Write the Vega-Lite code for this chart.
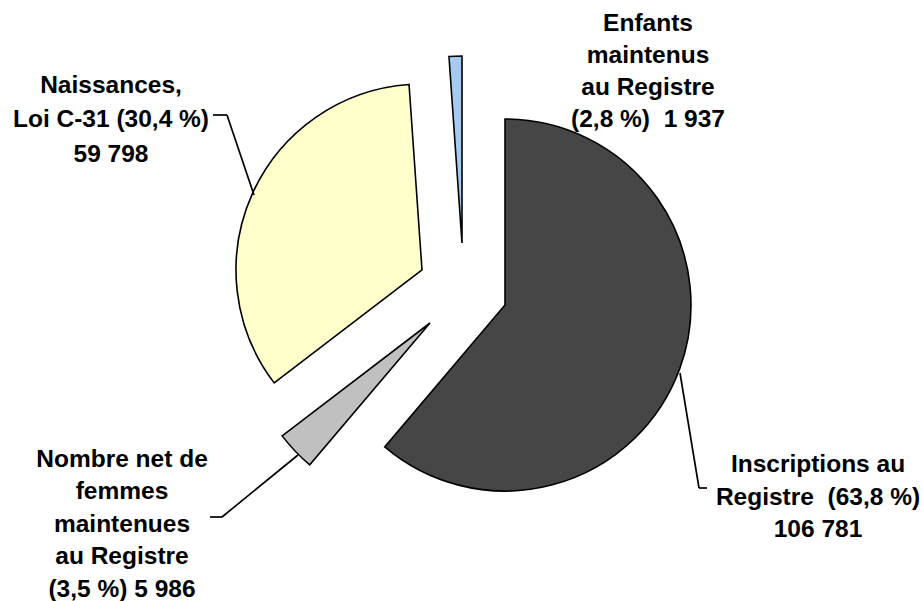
{
  "$schema": "https://vega.github.io/schema/vega-lite/v6.json",
  "width": 923,
  "height": 601,
  "autosize": {"type": "fit", "contains": "padding"},
  "padding": 0,
  "background": "white",
  "view": {"stroke": null},
  "config": {"font": "Liberation Sans"},
  "data": {
    "values": [
      {"categorie": "Inscriptions", "label": "Inscriptions au|Registre\u00a0 (63,8 %)|106 781", "valeur": 106781, "ordre": 1},
      {"categorie": "Femmes", "label": "Nombre net de|femmes|maintenues|au Registre|(3,5 %) 5 986", "valeur": 5986, "ordre": 2},
      {"categorie": "Naissances", "label": "Naissances,|Loi C-31 (30,4 %)|59 798", "valeur": 59798, "ordre": 3},
      {"categorie": "Enfants", "label": "Enfants|maintenus|au Registre|(2,8 %)\u00a0 1 937", "valeur": 1937, "ordre": 4}
    ]
  },
  "transform": [
    {"stack": "valeur", "groupby": [], "sort": [{"field": "ordre", "order": "ascending"}], "as": ["v0", "v1"]}
  ],
  "layer": [
    {
      "transform": [{"filter": "datum.categorie === 'Inscriptions'"}],
      "mark": {"type": "arc", "radius": 186, "stroke": "#000000", "strokeWidth": 1.6, "xOffset": 43.5, "yOffset": 4.5},
      "encoding": {
        "theta": {"field": "v0", "type": "quantitative", "scale": {"domain": [0, 174502]}},
        "theta2": {"field": "v1"},
        "color": {"field": "categorie", "type": "nominal", "legend": null,
          "scale": {"domain": ["Inscriptions", "Femmes", "Naissances", "Enfants"], "range": ["#464646", "#C0C0C0", "#FFFFCC", "#A6CAF0"]}}
      }
    },
    {
      "transform": [{"filter": "datum.categorie === 'Femmes'"}],
      "mark": {"type": "arc", "radius": 186, "stroke": "#000000", "strokeWidth": 1.6, "xOffset": -31.5, "yOffset": 22.5},
      "encoding": {
        "theta": {"field": "v0", "type": "quantitative", "scale": {"domain": [0, 174502]}},
        "theta2": {"field": "v1"},
        "color": {"field": "categorie", "type": "nominal", "legend": null}
      }
    },
    {
      "transform": [{"filter": "datum.categorie === 'Naissances'"}],
      "mark": {"type": "arc", "radius": 186, "stroke": "#000000", "strokeWidth": 1.6, "xOffset": -39.5, "yOffset": -30.5},
      "encoding": {
        "theta": {"field": "v0", "type": "quantitative", "scale": {"domain": [0, 174502]}},
        "theta2": {"field": "v1"},
        "color": {"field": "categorie", "type": "nominal", "legend": null}
      }
    },
    {
      "transform": [{"filter": "datum.categorie === 'Enfants'"}],
      "mark": {"type": "arc", "radius": 187, "stroke": "#000000", "strokeWidth": 1.6, "xOffset": 0.5, "yOffset": -57.5},
      "encoding": {
        "theta": {"field": "v0", "type": "quantitative", "scale": {"domain": [0, 174502]}},
        "theta2": {"field": "v1"},
        "color": {"field": "categorie", "type": "nominal", "legend": null}
      }
    },
    {
      "transform": [{"filter": "datum.categorie === 'Naissances'"}],
      "mark": {"type": "rule", "color": "#000000", "strokeWidth": 1.7},
      "encoding": {"x": {"value": 213}, "y": {"value": 115}, "x2": {"value": 227}, "y2": {"value": 115}}
    },
    {
      "transform": [{"filter": "datum.categorie === 'Naissances'"}],
      "mark": {"type": "rule", "color": "#000000", "strokeWidth": 1.7},
      "encoding": {"x": {"value": 227}, "y": {"value": 115}, "x2": {"value": 254}, "y2": {"value": 195}}
    },
    {
      "transform": [{"filter": "datum.categorie === 'Femmes'"}],
      "mark": {"type": "rule", "color": "#000000", "strokeWidth": 1.7},
      "encoding": {"x": {"value": 210}, "y": {"value": 517}, "x2": {"value": 222}, "y2": {"value": 517}}
    },
    {
      "transform": [{"filter": "datum.categorie === 'Femmes'"}],
      "mark": {"type": "rule", "color": "#000000", "strokeWidth": 1.7},
      "encoding": {"x": {"value": 222}, "y": {"value": 517}, "x2": {"value": 298}, "y2": {"value": 455}}
    },
    {
      "transform": [{"filter": "datum.categorie === 'Inscriptions'"}],
      "mark": {"type": "rule", "color": "#000000", "strokeWidth": 1.7},
      "encoding": {"x": {"value": 680}, "y": {"value": 373}, "x2": {"value": 699}, "y2": {"value": 488}}
    },
    {
      "transform": [{"filter": "datum.categorie === 'Inscriptions'"}],
      "mark": {"type": "rule", "color": "#000000", "strokeWidth": 1.7},
      "encoding": {"x": {"value": 699}, "y": {"value": 488}, "x2": {"value": 707}, "y2": {"value": 488}}
    },
    {
      "transform": [{"filter": "datum.categorie === 'Inscriptions'"}],
      "mark": {"type": "text", "lineBreak": "|", "baseline": "top", "align": "center", "fontSize": 24.5, "fontWeight": "bold", "lineHeight": 32.5, "dx": 356.5, "dy": 152.5, "color": "#000000"},
      "encoding": {"text": {"field": "label", "type": "nominal"}}
    },
    {
      "transform": [{"filter": "datum.categorie === 'Femmes'"}],
      "mark": {"type": "text", "lineBreak": "|", "baseline": "top", "align": "center", "fontSize": 24.5, "fontWeight": "bold", "lineHeight": 32.5, "dx": -339.5, "dy": 147, "color": "#000000"},
      "encoding": {"text": {"field": "label", "type": "nominal"}}
    },
    {
      "transform": [{"filter": "datum.categorie === 'Naissances'"}],
      "mark": {"type": "text", "lineBreak": "|", "baseline": "top", "align": "center", "fontSize": 24.5, "fontWeight": "bold", "lineHeight": 34.5, "dx": -350.5, "dy": -227, "color": "#000000"},
      "encoding": {"text": {"field": "label", "type": "nominal"}}
    },
    {
      "transform": [{"filter": "datum.categorie === 'Enfants'"}],
      "mark": {"type": "text", "lineBreak": "|", "baseline": "top", "align": "center", "fontSize": 24.5, "fontWeight": "bold", "lineHeight": 32, "dx": 186.5, "dy": -289, "color": "#000000"},
      "encoding": {"text": {"field": "label", "type": "nominal"}}
    }
  ]
}
